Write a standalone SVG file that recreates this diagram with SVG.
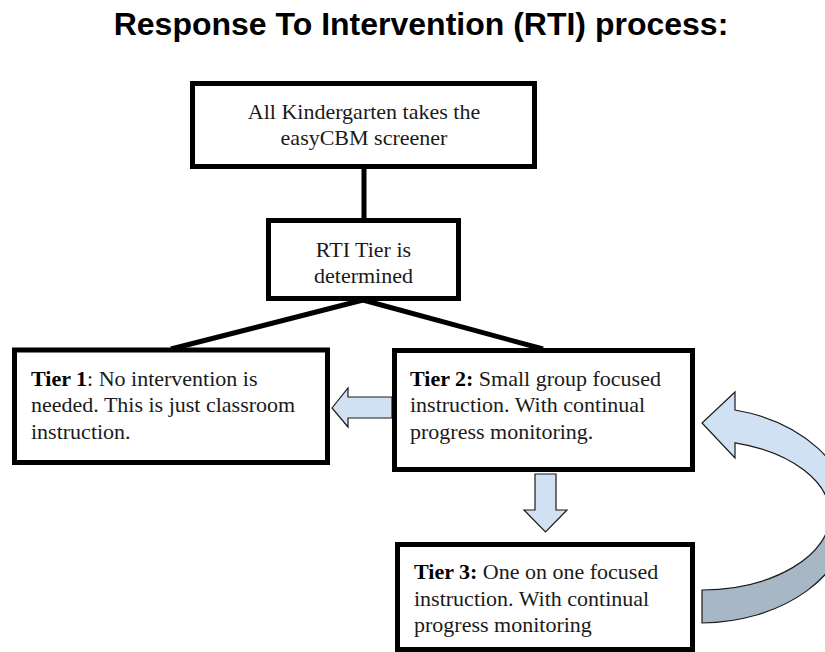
<svg xmlns="http://www.w3.org/2000/svg" width="825" height="652" viewBox="0 0 825 652">
<style>
.box{fill:#fff;stroke:#000;stroke-width:5;stroke-linejoin:miter}
.t{font-family:"Liberation Serif","Times New Roman",serif;font-size:22px;fill:#1a1a1a}
.c{text-anchor:middle}
.b{font-weight:bold;fill:#000}
.ln{stroke:#000;stroke-width:5;fill:none}
.ar{fill:#cfe1f2;stroke:#1a1a1a;stroke-width:1.2;stroke-linejoin:miter}
.ar2{fill:#a7b7c6;stroke:#1a1a1a;stroke-width:1.2}
.title{font-family:"Liberation Sans",Arial,sans-serif;font-size:32px;font-weight:bold;fill:#000;text-anchor:middle}
</style>
<rect width="825" height="652" fill="#fff"/>
<text class="title" x="421" y="35">Response To Intervention (RTI) process:</text>
<g id="connectors">
<line class="ln" x1="364" y1="168" x2="364" y2="219"/>
<line class="ln" x1="363" y1="300" x2="171" y2="349"/>
<line class="ln" x1="363" y1="300" x2="543" y2="349"/>
<polygon class="ar" points="332,408 348,388 348,397 392,397 392,418 348,418 348,427"/>
<polygon class="ar" points="535,474 556,474 556,510 567,510 545.5,532 524,510 535,510"/>
<path class="ar" d="M735,392 L702,423 L735,458 L735,442.8 A130,75 0 0 1 830,515 L850,515 A150,108 0 0 0 735,410 Z"/>
<path class="ar2" d="M830,515 A130,75 0 0 1 702,590 L702,623 A150,108 0 0 0 850,515 Z"/>
</g>
<g id="screener">
<rect class="box" x="192.5" y="83.5" width="342" height="83"/>
<text class="t c" x="364" y="119">All Kindergarten takes the</text>
<text class="t c" x="364" y="145">easyCBM screener</text>
</g>
<g id="rti-tier">
<rect class="box" x="268.5" y="220.5" width="190" height="78"/>
<text class="t c" x="363.5" y="257">RTI Tier is</text>
<text class="t c" x="363.5" y="283">determined</text>
</g>
<g id="tier1">
<rect class="box" x="14.5" y="350" width="313" height="112.5"/>
<text class="t" x="31" y="386"><tspan class="b">Tier 1</tspan>: No intervention is</text>
<text class="t" x="31" y="412">needed. This is just classroom</text>
<text class="t" x="31" y="439">instruction.</text>
</g>
<g id="tier2">
<rect class="box" x="394.5" y="350.5" width="298" height="119"/>
<text class="t" x="410" y="386"><tspan class="b">Tier 2:</tspan> Small group focused</text>
<text class="t" x="410" y="412">instruction. With continual</text>
<text class="t" x="410" y="439">progress monitoring.</text>
</g>
<g id="tier3">
<rect class="box" x="397.5" y="544.5" width="295" height="105"/>
<text class="t" x="414" y="579"><tspan class="b">Tier 3:</tspan> One on one focused</text>
<text class="t" x="414" y="606">instruction. With continual</text>
<text class="t" x="414" y="632">progress monitoring</text>
</g>
</svg>
